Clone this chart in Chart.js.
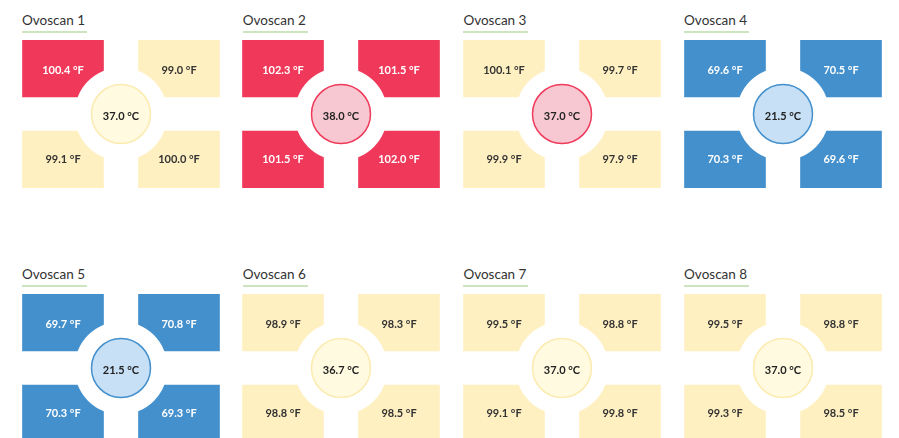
<!DOCTYPE html>
<html><head><meta charset="utf-8">
<script src="https://cdn.jsdelivr.net/npm/chart.js@4"></script>
<style>
html,body{margin:0;padding:0;background:#fff;overflow:hidden;width:899px;height:438px;}
.title{position:absolute;font-family:Lato,"Open Sans",sans-serif;font-size:13.5px;color:#333;border-bottom:2px solid #cde5be;padding:0 2px 3px 0;line-height:16px;white-space:nowrap;}
canvas{position:absolute;}
</style></head><body>
<script>
// ---- data ----
const panelTitles = ['Ovoscan 1','Ovoscan 2','Ovoscan 3','Ovoscan 4','Ovoscan 5','Ovoscan 6','Ovoscan 7','Ovoscan 8'];
const tileTopLeft     = [100.4, 102.3, 100.1, 69.6, 69.7, 98.9, 99.5, 99.5];
const tileTopRight    = [99.0, 101.5, 99.7, 70.5, 70.8, 98.3, 98.8, 98.8];
const tileBottomLeft  = [99.1, 101.5, 99.9, 70.3, 70.3, 98.8, 99.1, 99.3];
const tileBottomRight = [100.0, 102.0, 97.9, 69.6, 69.3, 98.5, 99.8, 98.5];
const centerTemps     = [37.0, 38.0, 37.0, 21.5, 21.5, 36.7, 37.0, 37.0];
const centerStatus    = ['ok','hot','hot','cold','cold','ok','ok','ok'];

// ---- styles ----
const TILE = {hot:'#f0395a', ok:'#fff0c2', cold:'#4390cd'};
const TILE_TEXT = {hot:'#ffffff', ok:'#333333', cold:'#ffffff'};
const CIRCLE_FILL = {hot:'#f8c8d2', ok:'#fffae0', cold:'#c7e0f5'};
const CIRCLE_LINE = {hot:'#ef3a5b', ok:'#fcebb0', cold:'#4390cd'};
const HOT_F = 100.4, COLD_F = 90;
function tileStatus(f){ return f >= HOT_F ? 'hot' : (f < COLD_F ? 'cold' : 'ok'); }

const PANEL_DX = 220.7, PANEL_DY = 254.3, LEFT0 = 22, TOP0 = 40;
const BAR_W = 81, CAT_W = 116, AREA_H = 148, GAP_H = 34;
const GAP_FRAC = (GAP_H/2) / (AREA_H/2);
const FONT = 'bold 11px Lato, "Open Sans", sans-serif';

const labelPlugin = {
  id:'tileLabels',
  afterDatasetsDraw(chart){
    const ctx = chart.ctx;
    ctx.save();
    ctx.textAlign = 'center'; ctx.textBaseline = 'middle';
    chart.data.datasets.forEach((ds, di) => {
      if (!ds.texts) return;
      const meta = chart.getDatasetMeta(di);
      meta.data.forEach((el, j) => {
        const p = el.getCenterPoint();
        ctx.font = FONT;
        ctx.fillStyle = ds.textColors[j];
        ctx.fillText(ds.texts[j], p.x, p.y + (ds.textOffset || 0));
      });
    });
    ctx.restore();
  }
};

for (let i = 0; i < panelTitles.length; i++) {
  const col = i % 4, row = Math.floor(i / 4);
  const rectLeft = LEFT0 + col * PANEL_DX, rectTop = TOP0 + row * PANEL_DY;

  const t = document.createElement('div');
  t.className = 'title';
  t.textContent = panelTitles[i];
  t.style.left = rectLeft + 'px';
  t.style.top = (rectTop - 28.4) + 'px';
  document.body.appendChild(t);

  const cv = document.createElement('canvas');
  cv.width = CAT_W * 2; cv.height = AREA_H;
  cv.style.width = (CAT_W * 2) + 'px'; cv.style.height = AREA_H + 'px';
  cv.style.left = (rectLeft - (CAT_W - BAR_W) / 2) + 'px';
  cv.style.top = rectTop + 'px';
  document.body.appendChild(cv);

  const top = [tileTopLeft[i], tileTopRight[i]];
  const bot = [tileBottomLeft[i], tileBottomRight[i]];
  const fmtF = v => v.toFixed(1) + ' °F';
  const cs = centerStatus[i];

  new Chart(cv.getContext('2d'), {
    type: 'bar',
    data: {
      labels: ['left', 'right'],
      datasets: [
        {type:'bar', label:'top', data: top.map(() => [GAP_FRAC, 1]),
         backgroundColor: top.map(v => TILE[tileStatus(v)]), borderWidth:0,
         grouped:false, barThickness:BAR_W, order:3,
         texts: top.map(fmtF), textColors: top.map(v => TILE_TEXT[tileStatus(v)]), textOffset: 2},
        {type:'bar', label:'bottom', data: bot.map(() => [-1, -GAP_FRAC]),
         backgroundColor: bot.map(v => TILE[tileStatus(v)]), borderWidth:0,
         grouped:false, barThickness:BAR_W, order:3,
         texts: bot.map(fmtF), textColors: bot.map(v => TILE_TEXT[tileStatus(v)]), textOffset: 0},
        {type:'bubble', label:'ring', xAxisID:'x2', data:[{x:0.5, y:0}],
         backgroundColor:'#ffffff', borderWidth:0, radius:46.5, order:2, clip:false},
        {type:'bubble', label:'center', xAxisID:'x2', data:[{x:0.5, y:0}],
         backgroundColor: CIRCLE_FILL[cs], borderColor: CIRCLE_LINE[cs], borderWidth:1.5, radius:29.5, order:1, clip:false,
         texts:[centerTemps[i].toFixed(1) + ' °C'], textColors:['#222222'], textOffset: 2}
      ]
    },
    options: {
      responsive:false, animation:false, devicePixelRatio:1, events:[],
      layout:{padding:0, autoPadding:false},
      plugins:{legend:{display:false}, tooltip:{enabled:false}, title:{display:false}},
      scales:{
        x:{type:'category', display:false, offset:true},
        x2:{type:'linear', display:false, min:0, max:1},
        y:{type:'linear', display:false, min:-1, max:1}
      }
    },
    plugins:[labelPlugin]
  });
}
</script>
</body></html>
